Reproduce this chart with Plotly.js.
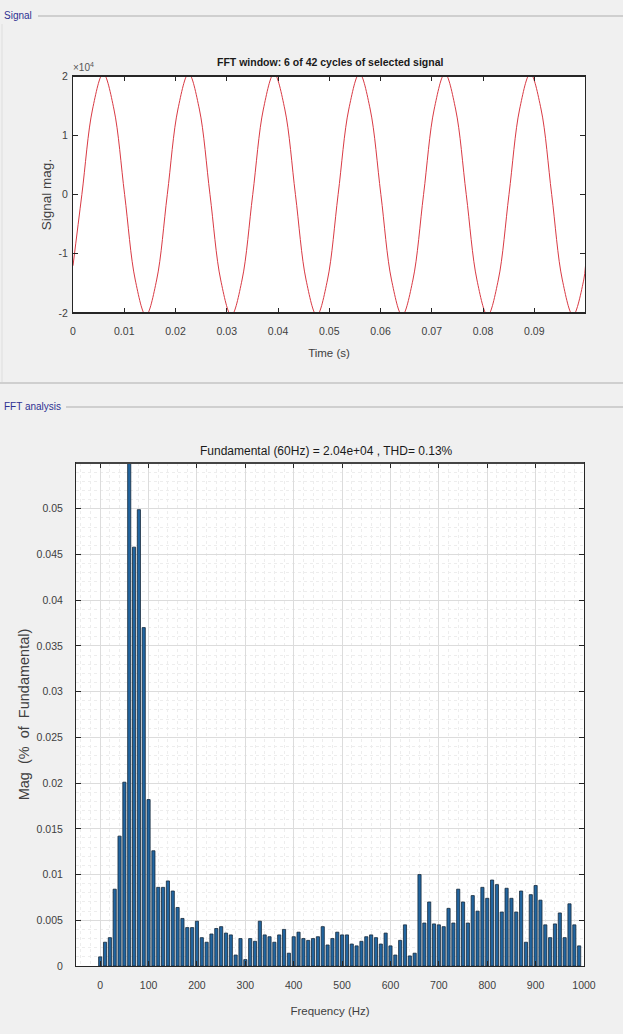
<!DOCTYPE html>
<html>
<head>
<meta charset="utf-8">
<script src="https://cdn.plot.ly/plotly-3.0.1.min.js"></script>
<style>
html,body{margin:0;padding:0;background:#f0f0f0;}
#chart{width:623px;height:1034px;}
</style>
</head>
<body>
<div id="chart"></div>
<script>
const timeS = [0, 0.00173, 0.00382, 0.00590, 0.00798, 0.01007, 0.01215, 0.01423, 0.01632, 0.01840,
  0.02048, 0.02257, 0.02465, 0.02673, 0.02882, 0.03090, 0.03298, 0.03507, 0.03715, 0.03923,
  0.04132, 0.04340, 0.04548, 0.04757, 0.04965, 0.05173, 0.05382, 0.05590, 0.05798, 0.06007,
  0.06215, 0.06423, 0.06632, 0.06840, 0.07048, 0.07257, 0.07465, 0.07673, 0.07882, 0.08090,
  0.08298, 0.08507, 0.08715, 0.08923, 0.09132, 0.09340, 0.09548, 0.09757, 0.09965, 0.1];
const signalMag = [-12020, 0, 14425, 20400, 14425, 0, -14425, -20400, -14425, 0,
  14425, 20400, 14425, 0, -14425, -20400, -14425, 0, 14425, 20400,
  14425, 0, -14425, -20400, -14425, 0, 14425, 20400, 14425, 0,
  -14425, -20400, -14425, 0, 14425, 20400, 14425, 0, -14425, -20400,
  -14425, 0, 14425, 20400, 14425, 0, -14425, -20400, -14425, -12020];

// ---- FFT analysis ----
const freqHz = [0,10,20,30,40,50,60,70,80,90,
  100,110,120,130,140,150,160,170,180,190,
  200,210,220,230,240,250,260,270,280,290,
  300,310,320,330,340,350,360,370,380,390,
  400,410,420,430,440,450,460,470,480,490,
  500,510,520,530,540,550,560,570,580,590,
  600,610,620,630,640,650,660,670,680,690,
  700,710,720,730,740,750,760,770,780,790,
  800,810,820,830,840,850,860,870,880,890,
  900,910,920,930,940,950,960,970,980,990];
const magPct = [0.001,0.0026,0.0031,0.0084,0.0142,0.0201,100,0.0458,0.0499,0.037,
  0.0182,0.0126,0.0086,0.0086,0.0093,0.0082,0.0064,0.0052,0.0042,0.0042,
  0.0049,0.0031,0.0026,0.0035,0.0041,0.0043,0.0036,0.0034,0.0012,0.003,
  0.0007,0.003,0.0027,0.0049,0.0034,0.0032,0.0026,0.0034,0.004,0.0014,
  0.0032,0.0037,0.003,0.0028,0.003,0.0032,0.0043,0.0023,0.003,0.0037,
  0.0034,0.0034,0.0024,0.0022,0.0027,0.0032,0.0034,0.0031,0.0024,0.0036,
  0.0022,0.0012,0.0028,0.0045,0.0011,0.0014,0.01,0.0047,0.007,0.0046,
  0.0045,0.0043,0.0063,0.0047,0.0084,0.007,0.0047,0.0077,0.006,0.0086,
  0.0074,0.0094,0.0089,0.0059,0.0085,0.0074,0.0059,0.0082,0.0026,0.0078,
  0.0088,0.0072,0.0045,0.0031,0.0046,0.0058,0.0031,0.0068,0.0045,0.0022];

const timeTicks = [0,0.01,0.02,0.03,0.04,0.05,0.06,0.07,0.08,0.09];
const timeTickText = ['0','0.01','0.02','0.03','0.04','0.05','0.06','0.07','0.08','0.09'];
const sigTicks = [-20000,-10000,0,10000,20000];
const sigTickText = ['-2','-1','0','1','2'];
const freqTicks = [0,100,200,300,400,500,600,700,800,900,1000];
const magTicks = [0,0.005,0.01,0.015,0.02,0.025,0.03,0.035,0.04,0.045,0.05];
const magTickText = ['0','0.005','0.01','0.015','0.02','0.025','0.03','0.035','0.04','0.045','0.05'];

const W = 623, H = 1034;
const px = x => x / W;
const py = y => 1 - y / H;
const NARROW = '"Liberation Sans Narrow", "Liberation Sans", Arial, sans-serif';
const SANS = '"Liberation Sans", Arial, sans-serif';
const AX = '#262626';
const TXT = '#404040';

const traces = [
  {
    x: timeS, y: signalMag, type: 'scatter', mode: 'lines',
    line: {color: '#d93a44', width: 1, shape: 'spline', smoothing: 1.0},
    xaxis: 'x', yaxis: 'y', hoverinfo: 'x+y'
  },
  {
    x: freqHz, y: magPct, type: 'bar', width: 6.5,
    marker: {color: '#2165a0', line: {color: '#17293b', width: 0.8}},
    xaxis: 'x2', yaxis: 'y2'
  }
];

const baseAxis = {
  showline: true, mirror: 'ticks', linecolor: AX, linewidth: 1,
  ticks: 'inside', ticklen: 5, tickcolor: AX, tickwidth: 1,
  zeroline: false, fixedrange: true,
  tickfont: {family: NARROW, size: 10.5, color: TXT}
};

const layout = {
  width: W, height: H,
  margin: {l: 0, r: 0, t: 0, b: 0},
  paper_bgcolor: '#f0f0f0',
  plot_bgcolor: '#ffffff',
  showlegend: false,
  bargap: 0,
  xaxis: Object.assign({}, baseAxis, {
    domain: [px(73), px(585)], anchor: 'y',
    range: [0, 0.0999], tickvals: timeTicks, ticktext: timeTickText,
    showgrid: false, ticklabelstandoff: 8,
    title: {text: 'Time (s)', font: {family: NARROW, size: 11.5, color: TXT}, standoff: 13}
  }),
  yaxis: Object.assign({}, baseAxis, {
    domain: [py(313), py(76)], anchor: 'x',
    range: [-20000, 20000], tickvals: sigTicks, ticktext: sigTickText,
    showgrid: false, ticklabelstandoff: 2,
    title: {text: 'Signal mag.', font: {family: SANS, size: 13.5, color: TXT}, standoff: 3}
  }),
  xaxis2: Object.assign({}, baseAxis, {
    domain: [px(76), px(584)], anchor: 'y2',
    range: [-50, 1000], tickvals: freqTicks,
    showgrid: true, gridcolor: '#dcdcdc', gridwidth: 1, ticklabelstandoff: 9,
    minor: {dtick: 20, tick0: 0, showgrid: true, gridcolor: '#ededed', griddash: 'dot', ticks: ''},
    title: {text: 'Frequency (Hz)', font: {family: NARROW, size: 11.5, color: TXT}, standoff: 17}
  }),
  yaxis2: Object.assign({}, baseAxis, {
    domain: [py(966), py(463)], anchor: 'x2',
    range: [0, 0.055], tickvals: magTicks, ticktext: magTickText,
    showgrid: true, gridcolor: '#dcdcdc', gridwidth: 1, ticklabelstandoff: 10,
    minor: {dtick: 0.001, tick0: 0, showgrid: true, gridcolor: '#ededed', griddash: 'dot', ticks: ''},
    title: {text: 'Mag  (%  of  Fundamental)', font: {family: SANS, size: 14.5, color: TXT}, standoff: 3}
  }),
  annotations: [
    {text: 'FFT window: 6 of 42 cycles of selected signal', xref: 'paper', yref: 'paper',
     x: px(330), y: py(62), xanchor: 'center', yanchor: 'middle', showarrow: false,
     font: {family: NARROW, size: 10.5, color: '#1a1a1a', weight: 'bold'}},
    {text: '×10<sup>4</sup>', xref: 'paper', yref: 'paper',
     x: px(71), y: py(67), xanchor: 'left', yanchor: 'middle', showarrow: false,
     font: {family: NARROW, size: 10, color: '#555555'}},
    {text: 'Fundamental (60Hz) = 2.04e+04 , THD= 0.13%', xref: 'paper', yref: 'paper',
     x: px(326), y: py(451), xanchor: 'center', yanchor: 'middle', showarrow: false,
     font: {family: NARROW, size: 12, color: '#1a1a1a'}},
    {text: 'Signal', xref: 'paper', yref: 'paper',
     x: px(2), y: py(15), xanchor: 'left', yanchor: 'middle', showarrow: false,
     font: {family: NARROW, size: 10, color: '#2e3192'}},
    {text: 'FFT analysis', xref: 'paper', yref: 'paper',
     x: px(2), y: py(407), xanchor: 'left', yanchor: 'middle', showarrow: false,
     font: {family: NARROW, size: 10, color: '#2e3192'}}
  ],
  shapes: [
    {type: 'line', xref: 'paper', yref: 'paper', x0: px(38), x1: 1, y0: py(16), y1: py(16),
     line: {color: '#c4c4c4', width: 1.5}},
    {type: 'line', xref: 'paper', yref: 'paper', x0: px(2), x1: px(2), y0: py(24), y1: py(382),
     line: {color: '#dedede', width: 1}},
    {type: 'line', xref: 'paper', yref: 'paper', x0: 0, x1: 1, y0: py(383), y1: py(383),
     line: {color: '#cfcfcf', width: 2}},
    {type: 'line', xref: 'paper', yref: 'paper', x0: px(66), x1: 1, y0: py(407), y1: py(407),
     line: {color: '#c4c4c4', width: 1.5}},
    {type: 'line', xref: 'paper', yref: 'paper', x0: px(73), x1: px(585), y0: py(76), y1: py(76),
     line: {color: AX, width: 2}},
    {type: 'line', xref: 'paper', yref: 'paper', x0: px(73), x1: px(585), y0: py(313), y1: py(313),
     line: {color: AX, width: 2}},
    {type: 'line', xref: 'paper', yref: 'paper', x0: px(76), x1: px(584), y0: py(463), y1: py(463),
     line: {color: '#444444', width: 2}}
  ]
};

Plotly.newPlot('chart', traces, layout, {staticPlot: true, displayModeBar: false});
</script>
</body>
</html>
